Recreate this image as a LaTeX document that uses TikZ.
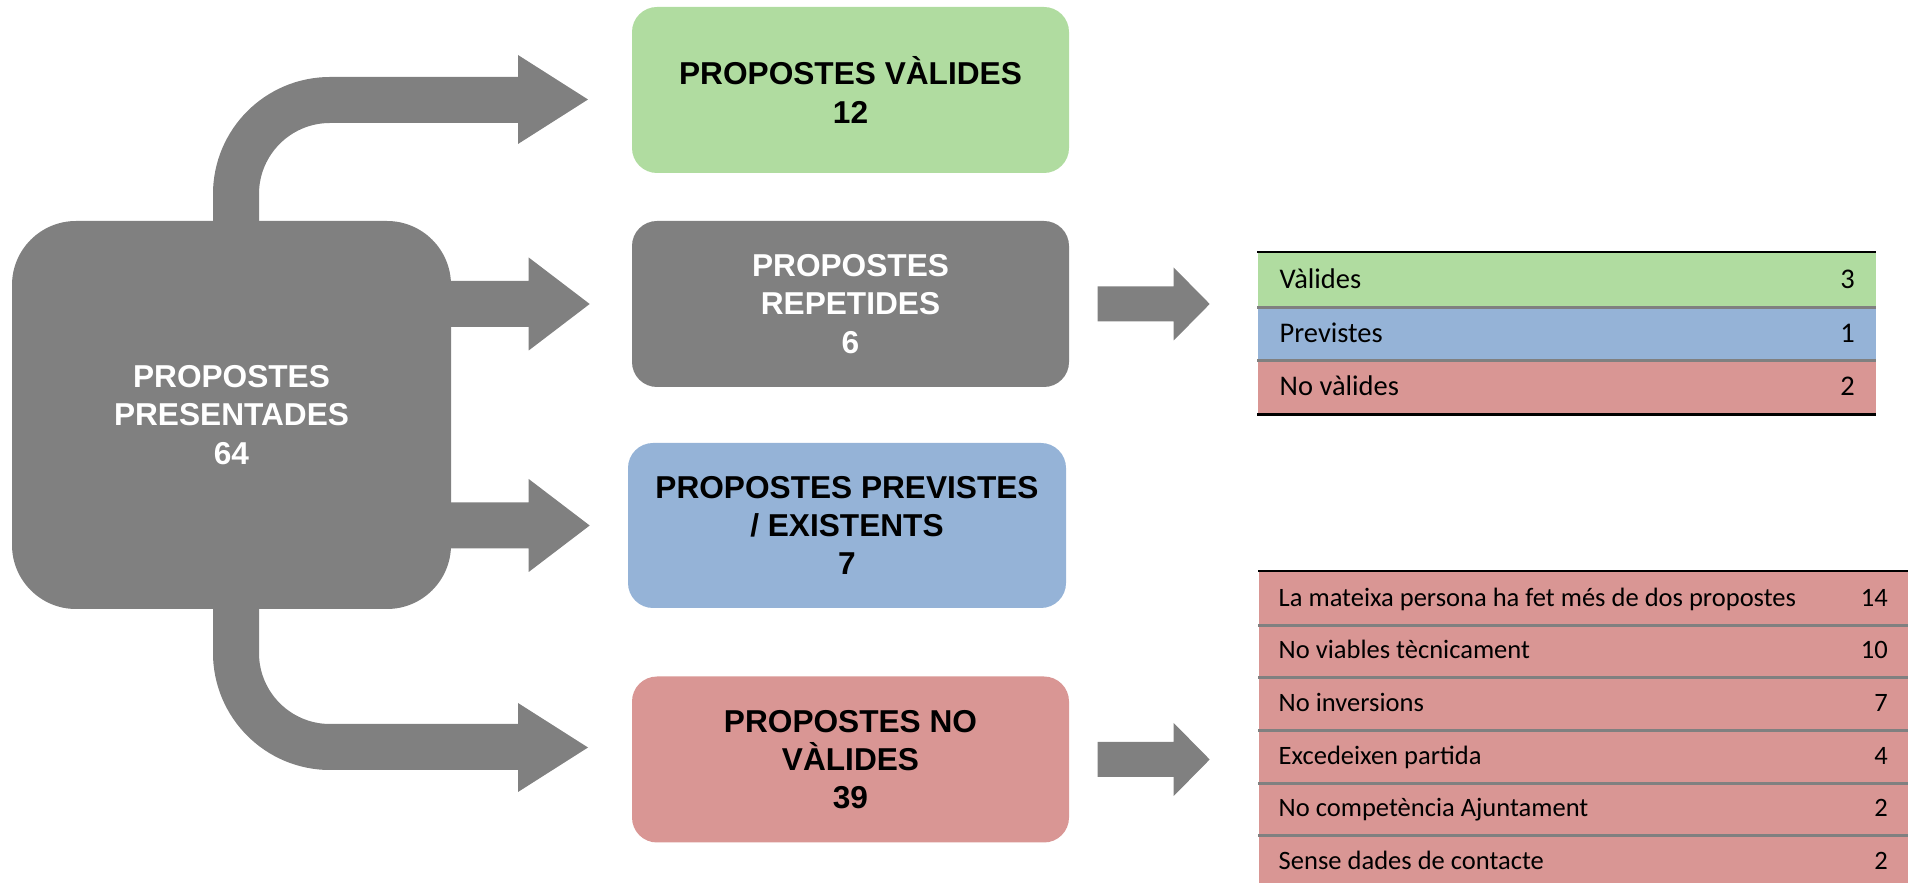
\documentclass[tikz,border=0pt]{standalone}
\usepackage{fontspec}
\newfontfamily\arialfont{Liberation Sans}
\newfontfamily\calibrifont{Carlito}

\definecolor{boxgreen}{RGB}{176,220,160}
\definecolor{boxblue}{RGB}{149,179,215}
\definecolor{boxred}{RGB}{217,150,148}
\definecolor{boxgray}{RGB}{128,128,128}

\tikzset{
	box/.style={rounded corners=0.25cm, minimum width=4.37cm, minimum height=1.66cm, inner sep=0pt, align=center, font=\arialfont\bfseries\fontsize{9}{10.9}\selectfont},
	rowcell/.style={anchor=north west, inner sep=0pt, minimum height=#1},
	rowtext/.style={anchor=base west, inner sep=0pt, font=\calibrifont\fontsize{#1}{9}\selectfont},
	rownum/.style={anchor=base east, inner sep=0pt, font=\calibrifont\fontsize{#1}{9}\selectfont},
	sepline/.style={boxgray, line width=0.8pt},
	edgeline/.style={black, line width=0.8pt},
}

\begin{document}
\begin{tikzpicture}
	\useasboundingbox (0,0) rectangle (19.16,8.83);
	
	% Main box
	\node[box, fill=boxgray, text=white, minimum width=4.39cm, minimum height=3.88cm, rounded corners=0.64cm] (presentades) at (2.315,4.68) {PROPOSTES\\PRESENTADES\\64};
	
	% Result boxes
	\node[box, fill=boxgreen] (valides) at (8.505,7.93) {PROPOSTES VÀLIDES\\12};
	\node[box, fill=boxgray, text=white] (repetides) at (8.505,5.79) {PROPOSTES\\REPETIDES\\6};
	\node[box, fill=boxblue, minimum width=4.38cm, minimum height=1.65cm] (previstes) at (8.47,3.575) {PROPOSTES PREVISTES\\/ EXISTENTS\\7};
	\node[box, fill=boxred] (novalides) at (8.505,1.235) {PROPOSTES NO\\VÀLIDES\\39};
	
	% Bent arrows in gray
	\fill[boxgray] (2.13,6.5) -- (2.13,6.89) arc[start angle=180, end angle=90, radius=1.17] -- (5.18,8.06) -- (5.18,8.28) -- (5.88,7.835) -- (5.18,7.39) -- (5.18,7.60) -- (3.30,7.60) arc[start angle=90, end angle=180, radius=0.71] -- (2.59,6.5) -- cycle;
	\fill[boxgray] (2.13,2.86) -- (2.13,2.30) arc[start angle=180, end angle=270, radius=1.17] -- (5.18,1.13) -- (5.18,0.91) -- (5.88,1.355) -- (5.18,1.80) -- (5.18,1.59) -- (3.30,1.59) arc[start angle=270, end angle=180, radius=0.71] -- (2.59,2.86) -- cycle;
	
	% Straight arrows in gray
	\foreach \target in {repetides, previstes} {
		\coordinate (s) at (presentades.east |- \target.west);
		\fill[boxgray] ([shift={(-0.1,0.23)}]s) -- ++(0.87,0) -- ++(0,0.235) -- ++(0.61,-0.465) -- ++(-0.61,-0.465) -- ++(0,0.235) -- ++(-0.87,0) -- cycle;
	}
	\foreach \src in {repetides, novalides} {
		\fill[boxgray] ([shift={(0.28,0.175)}]\src.east) -- ++(0.76,0) -- ++(0,0.19) -- ++(0.36,-0.365) -- ++(-0.36,-0.365) -- ++(0,0.19) -- ++(-0.76,0) -- cycle;
	}
	
	% Table of repeated ones
	\foreach \col/\txt/\num [count=\i] in {boxgreen/Vàlides/3, boxblue/Previstes/1, boxred/No vàlides/2} {
		\pgfmathsetmacro\rowtop{6.31-(\i-1)*0.537}
		\node[rowcell=0.537cm, fill=\col, minimum width=6.18cm] (rep-\i) at (12.57,\rowtop) {};
		\node[rowtext=8.1] (rep-\i-t) at ([xshift=0.22cm, yshift=-0.09cm]rep-\i.west) {\txt};
		\node[rownum=8.1] (rep-\i-n) at ([xshift=-0.21cm, yshift=-0.09cm]rep-\i.east) {\num};
	}
	\draw[sepline] (rep-1.south west) -- (rep-1.south east);
	\draw[sepline] (rep-2.south west) -- (rep-2.south east);
	\draw[edgeline] (rep-1.north west) -- (rep-1.north east);
	\draw[edgeline] (rep-3.south west) -- (rep-3.south east);
	
	% Table of invalid ones
	\foreach \txt/\num [count=\i] in {La mateixa persona ha fet més de dos propostes/14, No viables tècnicament/10, No inversions/7, Excedeixen partida/4, No competència Ajuntament/2, Sense dades de contacte/2} {
		\pgfmathsetmacro\rowtop{3.12-(\i-1)*0.527}
		\node[rowcell=0.527cm, fill=boxred, minimum width=6.49cm] (inv-\i) at (12.58,\rowtop) {};
		\node[rowtext=7.55] (inv-\i-t) at ([xshift=0.2cm, yshift=-0.08cm]inv-\i.west) {\txt};
		\node[rownum=7.55] (inv-\i-n) at ([xshift=-0.2cm, yshift=-0.08cm]inv-\i.east) {\num};
	}
	\foreach \i in {1,...,5} {
		\draw[sepline] (inv-\i.south west) -- (inv-\i.south east);
	}
	\draw[edgeline] (inv-1.north west) -- (inv-1.north east);
	
\end{tikzpicture}
\end{document}
